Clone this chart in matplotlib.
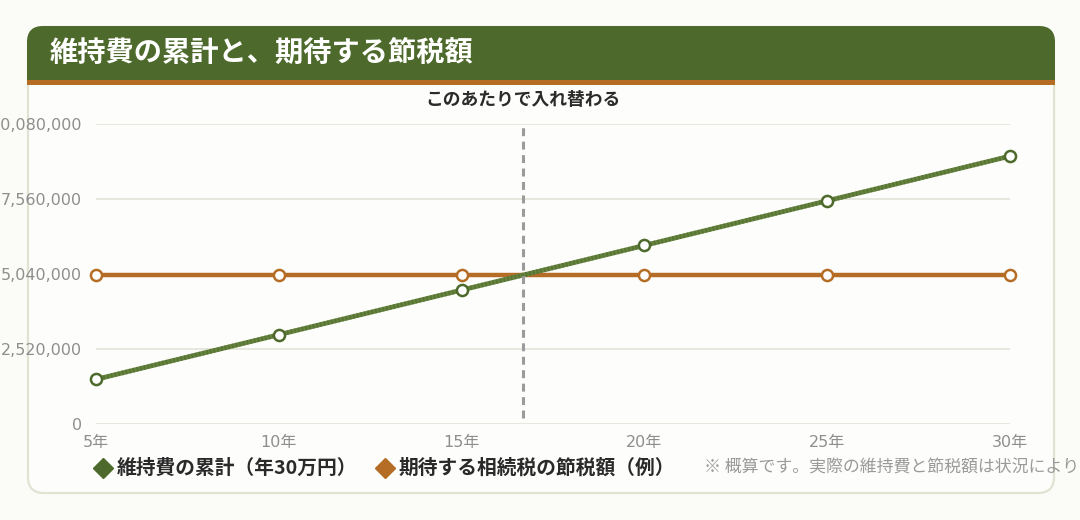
import matplotlib
matplotlib.use("Agg")
import matplotlib.pyplot as plt
from matplotlib.patches import FancyBboxPatch, Rectangle
from matplotlib.ticker import FuncFormatter

plt.rcParams['font.family'] = ['Noto Sans CJK JP', 'DejaVu Sans']

# ---- data ----
years = [5, 10, 15, 20, 25, 30]
year_labels = ["5年", "10年", "15年", "20年", "25年", "30年"]
maintenance_cum = [1500000, 3000000, 4500000, 6000000, 7500000, 9000000]
tax_saving = [5000000, 5000000, 5000000, 5000000, 5000000, 5000000]
y_ticks = [0, 2520000, 5040000, 7560000, 10080000]

title = "維持費の累計と、期待する節税額"
annotation = "このあたりで入れ替わる"
legend1 = "維持費の累計（年30万円）"
legend2 = "期待する相続税の節税額（例）"
note = "※ 概算です。実際の維持費と節税額は状況により"

# crossover between 15 and 20 years (linear interpolation of the two series)
i = 2
d0 = maintenance_cum[i] - tax_saving[i]
d1 = maintenance_cum[i + 1] - tax_saving[i + 1]
crossover = years[i] + (years[i + 1] - years[i]) * (-d0) / (d1 - d0)

GREEN = "#4d6a2c"
GREEN_LINE = "#66833f"
ORANGE = "#b56d26"
BG = "#fbfcf7"
CARD = "#fdfefb"
BORDER = "#dfe3d2"
TICK = "#8e8e8e"

W, H = 1080, 520
fig = plt.figure(figsize=(W / 100, H / 100), dpi=100, facecolor=BG)

# background layer in pixel coordinates
bg = fig.add_axes([0, 0, 1, 1])
bg.set_xlim(0, W)
bg.set_ylim(H, 0)
bg.axis("off")
bg.set_zorder(-1)

card = FancyBboxPatch((28, 27), 1026, 466, boxstyle="round,pad=0,rounding_size=16",
                      facecolor=CARD, edgecolor=BORDER, linewidth=1.6)
bg.add_patch(card)
hdr = FancyBboxPatch((27, 26), 1028, 54, boxstyle="round,pad=0,rounding_size=16",
                     facecolor=GREEN, edgecolor="none")
bg.add_patch(hdr)
bg.add_patch(Rectangle((27, 50), 1028, 30, facecolor=GREEN, edgecolor="none"))
bg.add_patch(Rectangle((27, 80), 1028, 5, facecolor=ORANGE, edgecolor="none"))
bg.text(50, 54, title, color="white", fontsize=20.3, fontweight="bold",
        va="center", ha="left")

# ---- chart ----
ax = fig.add_axes([96 / W, (H - 424) / H, 914 / W, 300 / H])
ax.set_facecolor("none")
ax.set_xlim(years[0], years[-1])
ax.set_ylim(y_ticks[0], y_ticks[-1])
for s in ax.spines.values():
    s.set_visible(False)
ax.set_yticks(y_ticks)
ax.yaxis.set_major_formatter(FuncFormatter(lambda v, p: f"{int(v):,}"))
ax.set_xticks(years)
ax.set_xticklabels(year_labels)
ax.tick_params(axis="both", length=0, labelsize=11.5, labelcolor=TICK)
ax.tick_params(axis="y", pad=10)
ax.tick_params(axis="x", pad=8)
for lab in ax.get_yticklabels() + ax.get_xticklabels():
    lab.set_family(['DejaVu Sans', 'Noto Sans CJK JP'])
ax.grid(axis="y", color="#e6e8de", linewidth=1.4)
ax.set_axisbelow(True)

ax.plot(years, tax_saving, color=ORANGE, lw=3.2, marker="o", markersize=8,
        markerfacecolor="white", markeredgecolor=ORANGE, markeredgewidth=1.8,
        clip_on=False, zorder=3)
ax.plot(years, maintenance_cum, color=GREEN_LINE, lw=3.4, zorder=4, clip_on=False)
ax.plot(years, maintenance_cum, color=GREEN, lw=3.4, linestyle=(0, (0.4, 0.4)),
        zorder=4, clip_on=False, alpha=0.55)
ax.plot(years, maintenance_cum, linestyle="none", marker="o", markersize=8,
        markerfacecolor="white", markeredgecolor=GREEN, markeredgewidth=1.8,
        clip_on=False, zorder=5)

ax.axvline(crossover, ymin=0.02, ymax=1, color="#9b9b9b", lw=2.2,
           linestyle=(0, (2.6, 1.8)), zorder=6)
ax.annotate(annotation, xy=(crossover, y_ticks[-1]), xytext=(0, 17),
            textcoords="offset points", ha="center", va="center",
            fontsize=12.8, fontweight="bold", color="#2b2b2b")

# ---- legend row ----
ly = 468
bg.plot([103], [ly], marker="D", markersize=10.5, color=GREEN, linestyle="none")
bg.text(117, ly, legend1, fontsize=14.2, fontweight="bold", color="#2a2a2a",
        va="center", ha="left")
bg.plot([385], [ly], marker="D", markersize=10.5, color=ORANGE, linestyle="none")
bg.text(399, ly, legend2, fontsize=14.2, fontweight="bold", color="#2a2a2a",
        va="center", ha="left")
bg.text(704, ly, note, fontsize=12.2, color="#9a9a9a", va="center", ha="left")

fig.savefig("out.png", dpi=100, facecolor=BG)
